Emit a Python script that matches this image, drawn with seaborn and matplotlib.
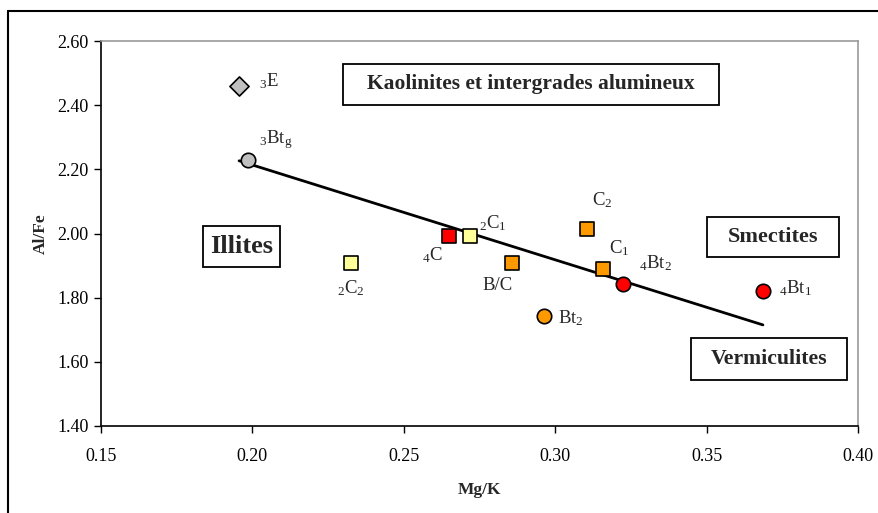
import numpy as np
import pandas as pd
import matplotlib
matplotlib.use("Agg")
import matplotlib.pyplot as plt
from matplotlib.patches import Rectangle
from matplotlib.lines import Line2D
import seaborn as sns

# ---- data ----
labels = [r"$\mathregular{_3}$E", r"$\mathregular{_3}$Bt$\mathregular{_g}$",
          r"$\mathregular{_2}$C$\mathregular{_2}$", r"$\mathregular{_4}$C",
          r"$\mathregular{_2}$C$\mathregular{_1}$", "B/C",
          r"Bt$\mathregular{_2}$", r"C$\mathregular{_2}$", r"C$\mathregular{_1}$",
          r"$\mathregular{_4}$Bt$\mathregular{_2}$", r"$\mathregular{_4}$Bt$\mathregular{_1}$"]
mg_k = [0.1956, 0.1986, 0.2327, 0.2650, 0.2717, 0.2856, 0.2962, 0.3104, 0.3157, 0.3223, 0.3686]
al_fe = [2.460, 2.229, 1.908, 1.992, 1.992, 1.908, 1.743, 2.014, 1.890, 1.843, 1.821]
shape = ["D", "o", "s", "s", "s", "s", "o", "s", "s", "o", "o"]
fill = ["#C0C0C0", "#C0C0C0", "#FFFF99", "#FF0000", "#FFFF99", "#FF9900",
        "#FF9900", "#FF9900", "#FF9900", "#FF0000", "#FF0000"]
# label anchor positions (left, center) in data coords
lab_x = [0.2022, 0.2022, 0.2279, 0.2561, 0.2747, 0.2760, 0.3008, 0.3123, 0.3177, 0.3276, 0.3739]
lab_y = [2.476, 2.292, 1.831, 1.933, 2.033, 1.837, 1.737, 2.105, 1.955, 1.908, 1.831]

zones = ["Kaolinites et intergrades alumineux", "Illites", "Smectites", "Vermiculites"]

df = pd.DataFrame({"x": mg_k, "y": al_fe, "m": shape, "c": fill})

sns.set_style("white")
plt.rcParams["font.family"] = ["Liberation Serif", "DejaVu Serif"]
plt.rcParams["mathtext.fontset"] = "custom"
plt.rcParams["mathtext.rm"] = "Liberation Serif"

fig = plt.figure(figsize=(8.79, 5.13), dpi=100)
ax = fig.add_axes([101/879, 1-426/513, 757/879, 385/513])

size_map = {"s": 100, "o": 108, "D": 95}
for (m, c), g in df.groupby(["m", "c"]):
    sns.scatterplot(data=g, x="x", y="y", marker=m, color=c, s=size_map[m],
                    edgecolor="black", linewidth=1.2, ax=ax, zorder=3, legend=False)

# linear trend over all points
coef = np.polyfit(mg_k, al_fe, 1)
tx = np.array([min(mg_k), max(mg_k)])
sns.lineplot(x=tx, y=np.polyval(coef, tx), color="black", linewidth=2, ax=ax, zorder=2)

for t, x, y in zip(labels, lab_x, lab_y):
    ax.text(x, y, t, fontsize=13.5, ha="left", va="center", zorder=4)

# zone boxes
boxes = [(0.2300, 2.4019, 0.3540, 2.5274, 15.5),
         (0.1837, 1.8960, 0.2092, 2.0237, 19),
         (0.3501, 1.9280, 0.3937, 2.0527, 16),
         (0.3448, 1.5439, 0.3964, 1.6748, 15.7)]
for name, (x0, y0, x1, y1, fs) in zip(zones, boxes):
    ax.add_patch(Rectangle((x0, y0), x1-x0, y1-y0, facecolor="white",
                           edgecolor="black", linewidth=1.3, zorder=5))
    ax.text((x0+x1)/2, (y0+y1)/2, name, fontsize=fs, fontweight="bold",
            ha="center", va="center", zorder=6)

ax.set_xlim(0.15, 0.40)
ax.set_ylim(1.40, 2.60)
ax.set_xticks([0.15, 0.20, 0.25, 0.30, 0.35, 0.40])
ax.set_yticks([1.40, 1.60, 1.80, 2.00, 2.20, 2.40, 2.60])
ax.xaxis.set_major_formatter(matplotlib.ticker.FormatStrFormatter("%.2f"))
ax.yaxis.set_major_formatter(matplotlib.ticker.FormatStrFormatter("%.2f"))
ax.tick_params(axis="both", labelsize=13, direction="out", length=5, width=1,
               colors="black", bottom=True, left=True)
ax.tick_params(axis="x", pad=11)
ax.tick_params(axis="y", pad=4)
ax.set_xlabel("Mg/K", fontsize=12.5, fontweight="bold", labelpad=12)
ax.set_ylabel("Al/Fe", fontsize=12.5, fontweight="bold", labelpad=6)
for s in ["left", "bottom"]:
    ax.spines[s].set_color("black")
    ax.spines[s].set_linewidth(1.2)
for s in ["top", "right"]:
    ax.spines[s].set_color("#999999")
    ax.spines[s].set_linewidth(1.2)

# outer frame (left and top only, as cropped)
fig.add_artist(Line2D([8/879, 8/879], [0, 1-11/513], color="black", linewidth=1.5,
                      transform=fig.transFigure))
fig.add_artist(Line2D([8/879, 1], [1-11/513, 1-11/513], color="black", linewidth=1.5,
                      transform=fig.transFigure))

fig.savefig("out.png", dpi=100)
